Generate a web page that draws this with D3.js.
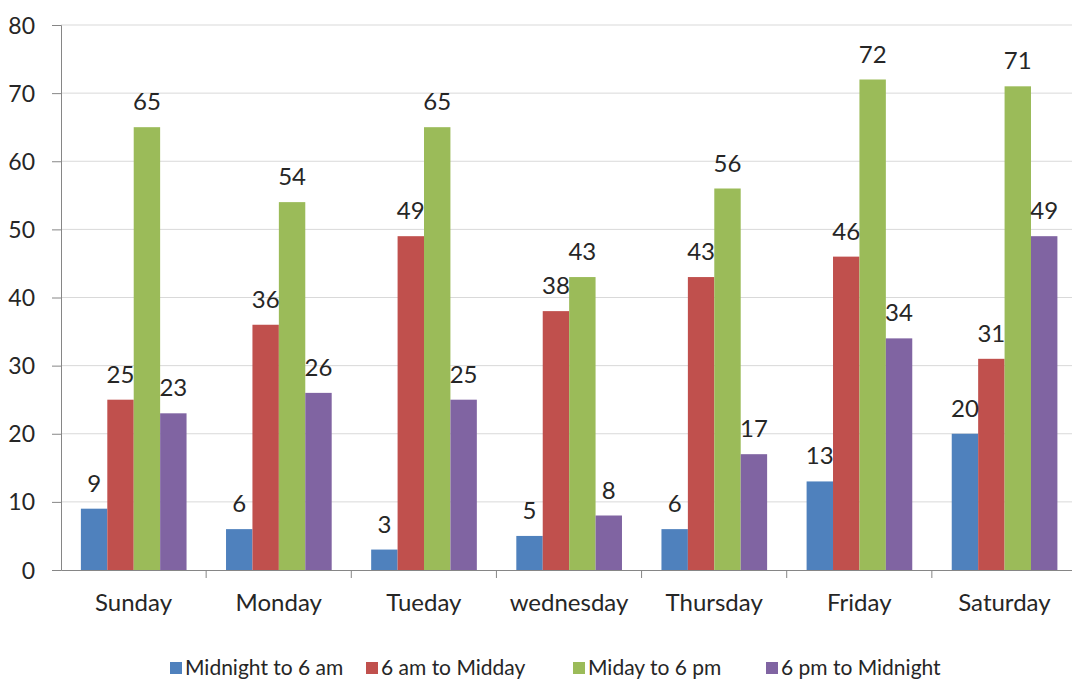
<!DOCTYPE html>
<html><head><meta charset="utf-8">
<script src="https://cdn.jsdelivr.net/npm/d3@7"></script>
<style>body{margin:0;background:#fff;} svg{display:block;} text{font-family:Lato, "Open Sans", sans-serif;fill:#262626;}</style>
</head><body>
<svg id="c" width="1072" height="683"></svg>
<script>
const categories = ["Sunday","Monday","Tueday","wednesday","Thursday","Friday","Saturday"];
const seriesNames = ["Midnight to 6 am","6 am to Midday","Miday to 6 pm","6 pm to Midnight"];
const seriesColors = ["#4F81BD","#C0504D","#9BBB59","#8064A2"];
const midnightTo6 = [9,6,3,5,6,13,20];
const sixToMidday = [25,36,49,38,43,46,31];
const middayTo6pm = [65,54,65,43,56,72,71];
const sixToMidnight = [23,26,25,8,17,34,49];
const yTicks = [0,10,20,30,40,50,60,70,80];

const series = [midnightTo6, sixToMidday, middayTo6pm, sixToMidnight];
const svg = d3.select("#c");
const plotLeft = 61, plotTop = 25, plotBottom = 570, plotRight = 1077;

const x0 = d3.scaleBand().domain(categories).range([plotLeft, plotRight]).padding(0);
const x1 = d3.scaleBand().domain(d3.range(4)).range([x0.bandwidth()*0.137, x0.bandwidth()*0.865]).padding(0);
const y = d3.scaleLinear().domain([0,80]).range([plotBottom, plotTop]);

// gridlines
svg.append("g").selectAll("line").data(yTicks.filter(d=>d>0)).join("line")
  .attr("x1", plotLeft).attr("x2", 1072).attr("y1", d=>y(d)).attr("y2", d=>y(d))
  .attr("stroke", "#d9d9d9").attr("stroke-width", 1);

// y axis
const yAxis = svg.append("g").attr("transform", `translate(${plotLeft},0)`)
  .call(d3.axisLeft(y).tickValues(yTicks).tickSize(9).tickPadding(17));
yAxis.select(".domain").attr("stroke", "#868686");
yAxis.selectAll(".tick line").attr("stroke", "#868686");
yAxis.selectAll(".tick text").style("font-size", "23px").attr("fill", "#262626").attr("dy","0.35em");

// bars
const groups = svg.append("g").selectAll("g").data(categories).join("g")
  .attr("transform", d => `translate(${x0(d)},0)`);
groups.selectAll("rect").data((d,i)=>series.map((s,k)=>({k, v:s[i]}))).join("rect")
  .attr("x", d=>x1(d.k)).attr("width", x1.bandwidth())
  .attr("y", d=>y(d.v)).attr("height", d=>plotBottom - y(d.v))
  .attr("fill", d=>seriesColors[d.k]);
groups.selectAll("text").data((d,i)=>series.map((s,k)=>({k, v:s[i]}))).join("text")
  .attr("x", d=>x1(d.k)+x1.bandwidth()/2).attr("y", d=>y(d.v)-17)
  .attr("text-anchor","middle").style("font-size","24px").text(d=>d.v);

// x axis
const xAxis = svg.append("g").attr("transform", `translate(0,${plotBottom})`)
  .call(d3.axisBottom(x0).tickSize(0).tickPadding(24));
xAxis.select(".domain").attr("stroke", "#868686");
xAxis.selectAll(".tick text").style("font-size", "24px").attr("fill","#262626");
svg.append("g").selectAll("line").data(categories.slice(1)).join("line")
  .attr("x1", d=>x0(d)).attr("x2", d=>x0(d)).attr("y1", plotBottom).attr("y2", plotBottom+8)
  .attr("stroke", "#868686");

// legend
const legendX = [170, 366, 573, 766];
const lg = svg.append("g").selectAll("g").data(seriesNames).join("g")
  .attr("transform", (d,i)=>`translate(${legendX[i]},668)`);
lg.append("rect").attr("x",0).attr("y",-6).attr("width",12).attr("height",12).attr("fill",(d,i)=>seriesColors[i]);
lg.append("text").attr("x",15).attr("y",0).attr("dy","0.35em").style("font-size","21px").text(d=>d);
</script>
</body></html>
